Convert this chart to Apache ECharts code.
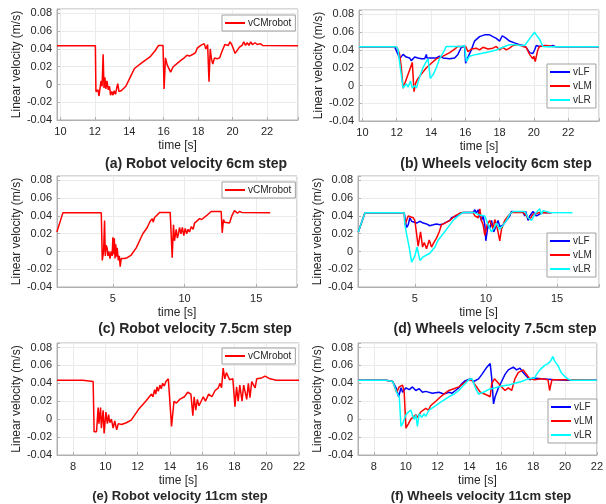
<!DOCTYPE html>
<html><head><meta charset="utf-8">
<script src="https://cdn.jsdelivr.net/npm/echarts@6/dist/echarts.min.js"></script>
<style>html,body{margin:0;padding:0;background:#fff}#c{width:606px;height:504px}</style>
</head><body><div id="c"></div>
<script>
// ---------- DATA ([time s, velocity m/s]) ----------
const aRobot = [[9.8,0.0435],[12.03,0.0435],[12.06,-0.008],[12.12,-0.009],[12.18,-0.006],[12.24,-0.013],[12.3,-0.004],[12.36,0.004],[12.42,-0.002],[12.48,0.034],[12.53,-0.004],[12.58,0.008],[12.64,-0.005],[12.7,0.004],[12.78,-0.006],[12.85,-0.002],[12.91,-0.012],[12.98,-0.008],[13.05,-0.012],[13.12,-0.007],[13.2,-0.011],[13.28,-0.003],[13.33,0.001],[13.4,-0.008],[13.53,-0.007],[13.8,-0.002],[14.05,0.008],[14.3,0.018],[14.7,0.024],[15.2,0.031],[15.5,0.038],[15.7,0.044],[15.96,0.044],[16.02,-0.005],[16.1,0.03],[16.2,0.022],[16.3,0.024],[16.4,0.014],[16.55,0.02],[16.65,0.018],[16.8,0.024],[16.9,0.022],[17.05,0.028],[17.2,0.03],[17.35,0.033],[17.5,0.032],[17.7,0.034],[17.85,0.036],[17.95,0.041],[18.05,0.039],[18.15,0.044],[18.25,0.042],[18.35,0.046],[18.45,0.04],[18.55,0.045],[18.63,0.003],[18.7,0.04],[18.78,0.028],[18.85,0.023],[18.95,0.03],[19.1,0.029],[19.25,0.03],[19.4,0.038],[19.55,0.045],[19.65,0.047],[19.75,0.044],[19.85,0.048],[19.95,0.045],[20.05,0.047],[20.15,0.035],[20.25,0.037],[20.4,0.042],[20.55,0.044],[20.65,0.048],[20.75,0.044],[20.85,0.047],[20.95,0.044],[21.05,0.048],[21.15,0.045],[21.3,0.047],[21.45,0.045],[21.6,0.046],[21.75,0.044],[23.8,0.0435]];

const bLF = [[9.8,0.0435],[11.88,0.0435],[12.08,0.035],[12.17,0.03],[12.27,0.029],[12.37,0.035],[12.47,0.037],[12.56,0.032],[12.66,0.034],[12.75,0.031],[12.85,0.028],[12.95,0.027],[13.05,0.032],[13.24,0.031],[13.34,0.033],[13.44,0.03],[13.63,0.03],[13.73,0.035],[13.76,0.031],[13.92,0.031],[14.31,0.031],[14.5,0.033],[14.7,0.031],[15.09,0.03],[15.38,0.031],[15.57,0.035],[15.77,0.043],[15.96,0.044],[16.02,0.025],[16.16,0.032],[16.35,0.04],[16.54,0.05],[16.83,0.055],[17.13,0.057],[17.42,0.057],[17.61,0.055],[17.81,0.053],[18.0,0.05],[18.04,0.048],[18.16,0.056],[18.39,0.053],[18.58,0.05],[18.87,0.048],[19.17,0.046],[19.36,0.045],[19.55,0.043],[19.65,0.044],[19.75,0.037],[19.94,0.036],[20.04,0.04],[20.14,0.045],[20.33,0.044],[20.62,0.045],[20.91,0.044],[21.1,0.045],[21.3,0.0435],[23.8,0.0435]];
const bLM = [[9.8,0.0435],[11.98,0.0435],[12.08,0.04],[12.17,0.035],[12.27,0.02],[12.37,-0.003],[12.91,0.026],[13.01,-0.007],[13.11,0.003],[13.24,0.008],[13.34,0.01],[13.73,0.02],[14.02,0.025],[14.31,0.03],[14.7,0.033],[15.09,0.037],[15.38,0.041],[15.57,0.044],[16.02,0.044],[16.06,0.043],[16.16,0.038],[16.35,0.041],[16.64,0.042],[16.83,0.04],[17.03,0.043],[17.32,0.041],[17.61,0.042],[17.81,0.044],[18.0,0.04],[18.19,0.043],[18.39,0.04],[18.58,0.042],[18.78,0.045],[19.07,0.046],[19.36,0.044],[19.55,0.043],[19.75,0.035],[19.94,0.03],[20.0,0.033],[20.08,0.027],[20.23,0.04],[20.33,0.044],[20.72,0.045],[21.11,0.044],[23.8,0.0435]];
const bLR = [[9.8,0.0435],[11.98,0.0435],[12.08,0.04],[12.21,0.02],[12.37,-0.003],[12.56,0.002],[12.66,-0.002],[12.8,0.005],[12.91,-0.003],[13.05,0.0],[13.15,-0.003],[13.34,0.01],[13.53,0.02],[13.73,0.027],[13.83,0.03],[13.96,0.008],[14.12,0.012],[14.31,0.02],[14.5,0.03],[14.8,0.04],[14.89,0.044],[15.77,0.044],[15.96,0.045],[16.06,0.027],[16.25,0.033],[16.64,0.035],[17.42,0.038],[17.81,0.04],[18.19,0.043],[18.58,0.046],[18.97,0.046],[19.17,0.045],[19.46,0.045],[19.65,0.05],[19.84,0.055],[20.04,0.06],[20.14,0.057],[20.33,0.052],[20.43,0.048],[20.52,0.044],[20.72,0.0435],[23.8,0.0435]];

const cRobot = [[1.09,0.022],[1.51,0.0435],[4.19,0.0435],[4.26,-0.01],[4.3,-0.008],[4.35,0.0],[4.42,0.035],[4.47,-0.005],[4.53,0.007],[4.6,0.004],[4.65,-0.005],[4.72,0.0],[4.8,-0.008],[4.88,0.0],[4.95,-0.005],[5.0,0.016],[5.05,-0.003],[5.1,0.015],[5.15,-0.008],[5.2,0.008],[5.25,-0.006],[5.3,0.004],[5.38,-0.01],[5.45,-0.005],[5.51,-0.017],[5.58,-0.008],[5.65,-0.006],[5.8,-0.008],[6.0,-0.007],[6.28,-0.004],[6.63,0.004],[7.09,0.02],[7.4,0.027],[7.6,0.034],[7.67,0.032],[7.75,0.037],[7.82,0.033],[7.9,0.038],[8.02,0.037],[8.26,0.044],[9.0,0.044],[9.14,-0.007],[9.23,0.03],[9.3,0.012],[9.35,0.01],[9.42,0.025],[9.5,0.015],[9.58,0.02],[9.65,0.027],[9.75,0.02],[9.85,0.027],[9.95,0.018],[10.05,0.026],[10.15,0.02],[10.25,0.025],[10.35,0.022],[10.47,0.028],[10.6,0.025],[10.7,0.032],[10.81,0.031],[11.05,0.037],[11.2,0.036],[11.51,0.04],[11.86,0.045],[12.56,0.045],[12.63,0.021],[12.72,0.036],[12.8,0.033],[12.91,0.034],[13.14,0.032],[13.3,0.04],[13.49,0.046],[13.6,0.045],[13.7,0.043],[13.84,0.045],[14.0,0.044],[15.98,0.0435]];

const dLF = [[1.02,0.022],[1.49,0.0435],[4.25,0.0435],[4.41,0.027],[4.53,0.03],[4.65,0.038],[4.77,0.034],[4.88,0.035],[5.12,0.032],[5.35,0.034],[5.59,0.032],[5.82,0.031],[6.05,0.029],[6.29,0.03],[6.52,0.031],[6.76,0.03],[6.99,0.031],[7.22,0.033],[7.46,0.035],[7.58,0.038],[7.69,0.036],[7.93,0.04],[8.16,0.043],[8.4,0.044],[9.1,0.044],[9.22,0.047],[9.33,0.043],[9.45,0.047],[9.57,0.04],[9.68,0.035],[9.8,0.04],[9.92,0.03],[9.99,0.012],[10.15,0.03],[10.27,0.026],[10.39,0.035],[10.55,0.022],[10.74,0.03],[10.85,0.035],[10.97,0.028],[11.09,0.026],[11.21,0.03],[11.44,0.035],[11.67,0.04],[11.79,0.045],[12.61,0.044],[12.73,0.04],[12.8,0.045],[12.96,0.035],[13.08,0.04],[13.31,0.045],[13.55,0.04],[14.02,0.044],[14.6,0.0435]];
const dLM = [[1.02,0.022],[1.49,0.0435],[4.25,0.0435],[4.3,0.03],[4.53,0.04],[4.65,0.042],[4.88,0.038],[5.0,0.035],[5.23,0.006],[5.4,0.022],[5.54,0.005],[5.66,0.01],[5.82,0.003],[6.01,0.013],[6.17,0.005],[6.33,0.01],[6.52,0.015],[6.71,0.022],[6.87,0.03],[7.11,0.032],[7.46,0.035],[7.81,0.04],[8.16,0.043],[8.4,0.044],[9.1,0.044],[9.22,0.04],[9.33,0.042],[9.45,0.038],[9.57,0.048],[9.68,0.035],[9.8,0.03],[9.92,0.018],[10.08,0.03],[10.27,0.035],[10.39,0.03],[10.5,0.025],[10.62,0.036],[10.74,0.03],[10.85,0.022],[10.97,0.012],[11.09,0.025],[11.32,0.035],[11.56,0.04],[11.79,0.044],[12.61,0.044],[12.85,0.04],[13.08,0.036],[13.31,0.042],[13.78,0.044],[14.6,0.0435]];
const dLR = [[1.02,0.022],[1.49,0.0435],[4.25,0.0435],[4.3,0.03],[4.41,0.02],[4.6,0.005],[4.77,-0.012],[4.88,-0.01],[5.0,-0.005],[5.16,0.005],[5.35,-0.01],[5.59,-0.006],[5.82,-0.004],[6.05,-0.002],[6.41,0.005],[6.64,0.013],[6.99,0.02],[7.46,0.03],[7.69,0.035],[8.04,0.04],[8.4,0.044],[9.1,0.044],[9.57,0.041],[9.92,0.04],[10.15,0.03],[10.39,0.022],[10.62,0.028],[10.74,0.032],[10.97,0.025],[11.21,0.03],[11.44,0.035],[11.67,0.042],[11.91,0.045],[12.73,0.045],[12.85,0.047],[12.96,0.038],[13.2,0.035],[13.43,0.042],[13.78,0.048],[13.9,0.042],[14.02,0.046],[14.48,0.044],[16.08,0.0435]];

const eRobot = [[7,0.0435],[8.6,0.0435],[9.24,0.042],[9.3,-0.014],[9.45,-0.014],[9.55,0.013],[9.6,-0.005],[9.7,0.013],[9.75,-0.01],[9.86,0.01],[9.92,-0.016],[10.03,0.008],[10.12,-0.005],[10.2,0.005],[10.27,-0.004],[10.37,0.0],[10.48,-0.01],[10.58,-0.002],[10.7,-0.012],[10.8,-0.005],[11.0,-0.006],[11.3,-0.004],[11.6,-0.001],[12.1,0.012],[12.5,0.02],[12.86,0.028],[12.95,0.025],[13.05,0.033],[13.12,0.028],[13.2,0.036],[13.28,0.031],[13.38,0.038],[13.46,0.034],[13.55,0.04],[13.65,0.037],[13.75,0.042],[13.9,0.045],[14.0,0.044],[14.1,-0.008],[14.25,0.02],[14.4,0.018],[14.6,0.022],[14.9,0.025],[15.1,0.03],[15.3,0.028],[15.42,0.004],[15.5,0.025],[15.6,0.01],[15.7,0.022],[15.8,0.015],[16.07,0.025],[16.2,0.02],[16.4,0.028],[16.6,0.025],[16.8,0.032],[17.0,0.035],[17.1,0.04],[17.2,0.035],[17.3,0.057],[17.4,0.045],[17.5,0.052],[17.7,0.044],[17.9,0.045],[18.03,0.014],[18.13,0.036],[18.23,0.02],[18.33,0.038],[18.47,0.02],[18.57,0.038],[18.76,0.022],[18.86,0.04],[18.96,0.024],[19.07,0.042],[19.28,0.035],[19.38,0.045],[19.69,0.046],[19.9,0.048],[20.2,0.045],[20.6,0.0435],[22,0.0435]];

const fLF = [[7,0.0435],[8.76,0.0435],[9.18,0.042],[9.39,0.035],[9.55,0.025],[9.7,0.035],[9.8,0.03],[10.01,0.035],[10.22,0.033],[10.42,0.036],[10.63,0.032],[10.84,0.034],[11.05,0.03],[11.25,0.031],[11.67,0.029],[12.08,0.03],[12.39,0.028],[12.71,0.03],[12.91,0.029],[13.12,0.032],[13.33,0.035],[13.54,0.04],[13.74,0.043],[14.05,0.045],[14.26,0.042],[14.37,0.04],[14.57,0.045],[14.78,0.05],[15.09,0.058],[15.3,0.062],[15.4,0.045],[15.51,0.017],[15.61,0.025],[15.82,0.035],[16.02,0.042],[16.23,0.05],[16.44,0.055],[16.75,0.058],[16.96,0.055],[17.17,0.057],[17.37,0.052],[17.58,0.048],[17.79,0.044],[18.0,0.046],[18.51,0.045],[19.34,0.044],[20.17,0.0435],[22,0.0435]];
const fLM = [[7,0.0435],[8.76,0.0435],[9.18,0.042],[9.43,0.03],[9.59,0.036],[9.8,0.038],[9.9,0.03],[10.01,-0.01],[10.17,-0.005],[10.32,0.0],[10.42,-0.002],[10.63,0.005],[10.73,0.002],[10.94,0.008],[11.05,0.006],[11.25,0.012],[11.42,0.01],[11.56,0.015],[11.88,0.02],[12.19,0.025],[12.39,0.028],[12.71,0.032],[13.02,0.034],[13.33,0.036],[13.64,0.04],[13.95,0.044],[14.16,0.043],[14.37,0.038],[14.68,0.03],[15.09,0.027],[15.3,0.025],[15.4,0.04],[15.57,0.045],[15.82,0.04],[16.02,0.036],[16.23,0.032],[16.44,0.035],[16.65,0.032],[16.85,0.045],[17.06,0.052],[17.37,0.055],[17.58,0.05],[17.79,0.045],[18.1,0.044],[18.51,0.045],[18.93,0.044],[19.03,0.032],[19.1,0.038],[19.18,0.044],[20.17,0.044],[22,0.0435]];
const fLR = [[7,0.0435],[8.76,0.0435],[9.18,0.042],[9.43,0.03],[9.59,0.025],[9.7,-0.008],[9.8,-0.005],[10.01,0.005],[10.17,0.008],[10.32,0.01],[10.42,0.004],[10.53,0.0],[10.63,0.005],[10.73,-0.008],[10.84,0.006],[11.0,0.002],[11.15,0.006],[11.25,0.003],[11.46,0.01],[11.56,0.008],[11.88,0.015],[12.29,0.02],[12.71,0.025],[13.02,0.028],[13.33,0.032],[13.64,0.038],[13.95,0.044],[14.16,0.045],[14.37,0.035],[14.57,0.028],[14.88,0.03],[15.19,0.033],[15.61,0.035],[16.02,0.037],[16.44,0.038],[16.85,0.04],[17.27,0.042],[17.68,0.045],[18.1,0.046],[18.21,0.05],[18.42,0.055],[18.72,0.06],[18.93,0.062],[19.1,0.065],[19.24,0.07],[19.34,0.065],[19.55,0.06],[19.76,0.052],[19.97,0.048],[20.17,0.045],[20.38,0.0435],[22,0.0435]];

const titles = ['(a) Robot velocity 6cm step','(b) Wheels velocity 6cm step','(c) Robot velocity 7.5cm step','(d) Wheels velocity 7.5cm step','(e) Robot velocity 11cm step','(f) Wheels velocity 11cm step'];
const xRanges = [[9.8,23.8,2],[9.8,23.8,2],[1.1,17.85,5],[1.0,17.95,5],[7,22,2],[7,22,2]];
const yRange = [-0.04, 0.085, 0.02];
const yName = 'Linear velocity (m/s)';
const xName = 'time [s]';

// ---------- LAYOUT / STYLE ----------
const FONT = 'Liberation Sans, Arial, sans-serif';
const RED = '#ff0000', BLUE = '#0000ff', CYAN = '#00ffff';
const TXT = '#262626', AX = '#b0b0b0', GRID = '#ebebeb';
const panels = [
  {grid:{left:57,top:9,width:241,height:111}, series:[['vCMrobot',aRobot,RED]], leg:{left:222,top:15}, tx:196, ty:164, tfs:14},
  {grid:{left:359,top:10,width:240,height:111}, series:[['vLF',bLF,BLUE],['vLM',bLM,RED],['vLR',bLR,CYAN]], leg:{left:547,top:64}, tx:496, ty:164, tfs:14},
  {grid:{left:57,top:176,width:240,height:111}, series:[['vCMrobot',cRobot,RED]], leg:{left:222,top:182}, tx:195, ty:329, tfs:14},
  {grid:{left:358,top:176,width:241,height:111}, series:[['vLF',dLF,BLUE],['vLM',dLM,RED],['vLR',dLR,CYAN]], leg:{left:547,top:233}, tx:495, ty:329, tfs:14},
  {grid:{left:57,top:343,width:242,height:112}, series:[['vCMrobot',eRobot,RED]], leg:{left:222,top:348}, tx:180, ty:496, tfs:13},
  {grid:{left:358,top:343,width:241,height:112}, series:[['vLF',fLF,BLUE],['vLM',fLM,RED],['vLR',fLR,CYAN]], leg:{left:548,top:399}, tx:481, ty:496, tfs:13}
];

function multipleOf(v, step){ return Math.abs(v/step - Math.round(v/step)) < 1e-6; }

const option = {
  animation:false, backgroundColor:'#fff',
  grid:[], xAxis:[], yAxis:[], series:[], legend:[], graphic:[]
};
panels.forEach((p,i)=>{
  option.grid.push(Object.assign({show:true, borderColor:AX, borderWidth:1, backgroundColor:'#fff'}, p.grid));
  const [xmin,xmax,xi] = xRanges[i];
  option.xAxis.push({
    gridIndex:i, type:'value', min:xmin, max:xmax, minInterval:xi, maxInterval:xi,
    name:xName, nameLocation:'middle', nameGap:20,
    nameTextStyle:{fontSize:12, color:TXT, fontFamily:FONT},
    axisLine:{show:true, onZero:false, lineStyle:{color:AX}},
    axisTick:{show:true, inside:true, length:3, lineStyle:{color:AX}},
    axisLabel:{fontSize:11, color:TXT, fontFamily:FONT, margin:6,
      formatter:v=> multipleOf(v,xi) ? String(Math.round(v)) : ''},
    splitLine:{show:true, lineStyle:{color:GRID, width:1}}
  });
  option.yAxis.push({
    gridIndex:i, type:'value', min:yRange[0], max:yRange[1], interval:yRange[2],
    name:yName, nameLocation:'middle', nameGap:33,
    nameTextStyle:{fontSize:12, color:TXT, fontFamily:FONT},
    axisLine:{show:true, onZero:false, lineStyle:{color:AX}},
    axisTick:{show:true, inside:true, length:3, lineStyle:{color:AX}},
    axisLabel:{fontSize:11, color:TXT, fontFamily:FONT, margin:5,
      formatter:v=> !multipleOf(v,yRange[2]) ? '' : (Math.abs(v)<1e-9 ? '0' : v.toFixed(2))},
    splitLine:{show:true, lineStyle:{color:GRID, width:1}}
  });
  const names = [];
  p.series.forEach(([name,data,color])=>{
    names.push({name, icon:'rect', itemStyle:{color}});
    option.series.push({
      type:'line', name, data, xAxisIndex:i, yAxisIndex:i,
      symbol:'none', showSymbol:false, color,
      lineStyle:{color, width:1.5}, emphasis:{disabled:true}, silent:true
    });
  });
  option.legend.push({
    data:names, left:p.leg.left, top:p.leg.top, orient:'vertical',
    selectedMode:false, backgroundColor:'#fff', borderColor:'#a0a0a0', borderWidth:1, borderRadius:0,
    padding:[2,4,2,3], itemGap:2, itemWidth:20, itemHeight:2, icon:'rect',
    textStyle:{fontSize:10, color:TXT, fontFamily:FONT, padding:[0,0,0,-2], lineHeight:12}
  });
  option.graphic.push({
    type:'text', x:p.tx, y:p.ty, silent:true,
    style:{text:titles[i], align:'center', verticalAlign:'middle',
      font:'bold '+p.tfs+'px '+FONT, fill:TXT}
  });
});

const chart = echarts.init(document.getElementById('c'), null, {renderer:'canvas'});
chart.setOption(option);
</script></body></html>
